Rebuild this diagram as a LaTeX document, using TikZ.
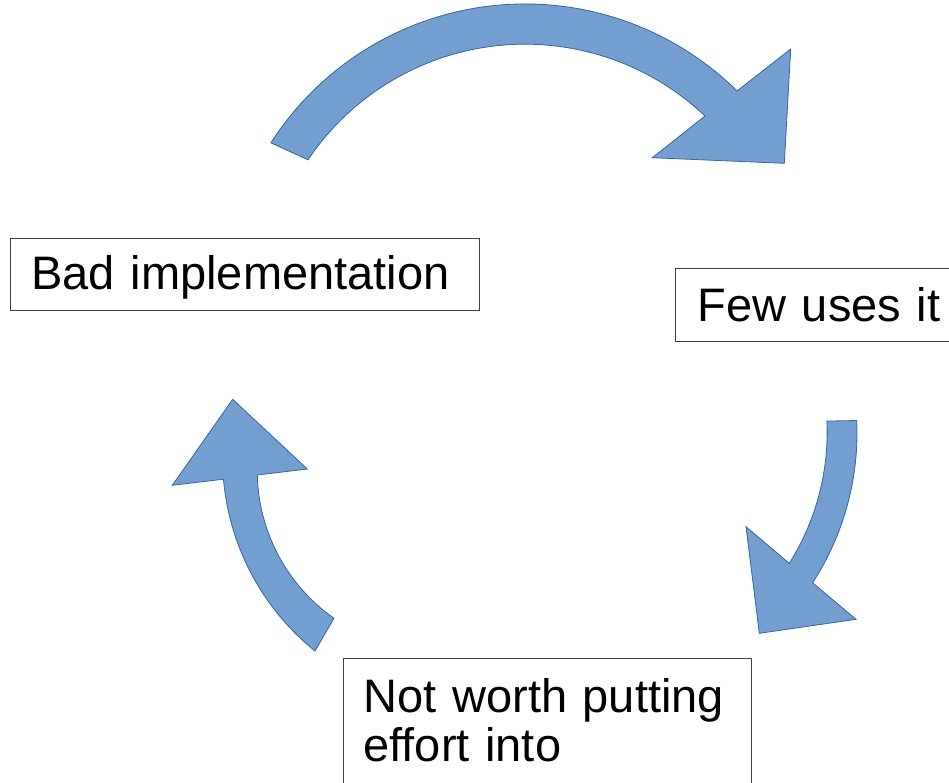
\documentclass[tikz,border=0pt]{standalone}
\usepackage{fontspec}
\setmainfont{Liberation Sans}
\definecolor{arrowfill}{HTML}{729FCF}
\definecolor{arrowline}{HTML}{3465A4}
\begin{document}
\begin{tikzpicture}[x=1pt,y=-1pt,
  blockarrow/.style={fill=arrowfill, draw=arrowline, line width=0.8pt, line join=miter},
  box/.style={draw=black!75, line width=1pt, anchor=north west, align=left,
    font=\fontsize{47pt}{49pt}\selectfont, text height=34pt}]
\useasboundingbox (0,0) rectangle (949,782);

% top curved arrow
\path[blockarrow] (270.9,142.8) arc[start angle=-147.3, end angle=-45.4, radius=302]
  -- (790.7,49) -- (784.3,163.3) -- (652.3,157.7) -- (705,116)
  arc[start angle=-46.5, end angle=-146.1, radius=261.5] -- cycle;

% right curved arrow
\path[blockarrow] (856.7,420.5) arc[start angle=-2.6, end angle=33.0, radius=275]
  -- (856,619.3) -- (759.3,633.3) -- (746,526.7) -- (789.3,563.3)
  arc[start angle=32.2, end angle=-2.6, radius=246] -- cycle;

% left curved arrow
\path[blockarrow] (315,651) arc[start angle=128.9, end angle=175, radius=248.6]
  -- (172.3,485.3) -- (232.7,399.3) -- (307.3,469) -- (257.3,475)
  arc[start angle=178.6, end angle=125.1, radius=180.5] -- cycle;

\node[box, inner xsep=21pt, inner ysep=18pt, text width=427pt, text height=33.3pt, text depth=2.7pt] (bad) at (10,238) {Bad implementation};
\node[box, inner xsep=22pt, inner ysep=19pt, text width=300pt, text depth=1pt] (few) at (675,268) {Few uses it};
\node[box, inner xsep=20pt, inner ysep=20pt, text width=368pt, text depth=110pt] (notworth) at (343,658) {Not worth putting\\effort into};
\end{tikzpicture}
\end{document}
